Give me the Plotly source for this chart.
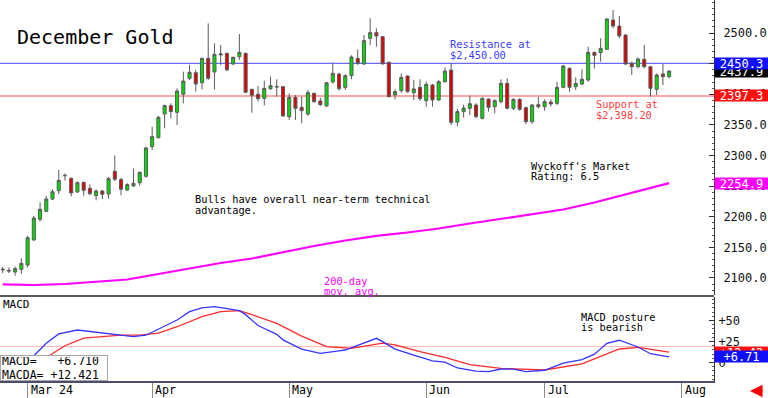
import plotly.graph_objects as go
import pandas as pd

# ---------------- data ----------------
holidays = ["2024-03-29", "2024-05-27", "2024-06-19", "2024-07-04"]
calendar = [d for d in pd.bdate_range("2024-02-26", "2024-08-09")
            if d.strftime("%Y-%m-%d") not in holidays]

opens = [2114.5, 2112.5, 2109.8, 2114.1, 2121.2, 2162.0, 2195.8, 2208.8, 2228.9, 2242.6,
         2267.5, 2262.7, 2240.4, 2256.2, 2246.4, 2234.4, 2242.0, 2237.1, 2274.2, 2260.6,
         2243.6, 2250.2, 2255.6, 2266.0, 2314.4, 2329.1, 2367.8, 2381.4, 2370.5, 2399.9,
         2426.0, 2435.2, 2418.9, 2458.6, 2436.3, 2466.0, 2466.8, 2449.4, 2461.4, 2466.8,
         2408.0, 2399.9, 2393.3, 2409.1, 2412.8, 2412.4, 2363.4, 2394.9, 2378.6, 2367.8,
         2401.5, 2389.0, 2380.8, 2420.0, 2433.0, 2411.3, 2430.4, 2458.6, 2449.4, 2491.3,
         2500.5, 2494.0, 2452.1, 2398.8, 2405.8, 2429.8, 2402.6, 2411.3, 2389.5, 2415.1,
         2390.6, 2420.5, 2439.6, 2354.5, 2371.6, 2377.0, 2382.4, 2360.7, 2392.2, 2379.7,
         2387.9, 2417.8, 2377.0, 2391.7, 2378.1, 2355.2, 2383.0, 2379.7, 2387.3, 2385.2,
         2411.3, 2442.3, 2412.4, 2416.7, 2423.3, 2468.4, 2467.9, 2473.3, 2521.2, 2511.4,
         2496.7, 2450.5, 2445.0, 2457.0, 2445.0, 2408.0, 2433.0, 2428.7]
highs = [2118.0, 2117.0, 2118.5, 2132.0, 2168.6, 2201.2, 2223.5, 2233.9, 2244.7, 2276.3,
         2270.9, 2263.8, 2257.8, 2257.3, 2252.9, 2244.7, 2243.6, 2264.9, 2300.3, 2263.8,
         2254.6, 2278.5, 2273.6, 2314.4, 2347.0, 2364.5, 2383.0, 2385.2, 2409.7, 2436.9,
         2447.8, 2439.6, 2459.7, 2515.8, 2483.1, 2480.4, 2467.9, 2461.4, 2498.4, 2467.9,
         2409.1, 2413.5, 2422.2, 2428.7, 2424.4, 2413.5, 2401.5, 2398.8, 2396.0, 2407.0,
         2402.6, 2394.4, 2420.0, 2451.6, 2435.2, 2432.5, 2463.6, 2473.3, 2496.7, 2524.0,
         2507.6, 2495.1, 2453.2, 2408.0, 2434.1, 2430.9, 2423.3, 2424.4, 2420.5, 2416.7,
         2423.3, 2443.9, 2450.5, 2376.0, 2383.0, 2398.0, 2385.2, 2395.0, 2393.3, 2391.7,
         2424.4, 2426.0, 2393.3, 2393.3, 2379.7, 2384.1, 2396.0, 2391.7, 2391.7, 2420.5,
         2447.8, 2444.0, 2427.6, 2440.7, 2477.7, 2469.5, 2491.3, 2524.0, 2537.6, 2527.8,
         2497.8, 2453.2, 2460.3, 2480.4, 2446.1, 2434.1, 2449.4, 2438.5]
lows = [2108.0, 2108.0, 2103.8, 2106.5, 2117.4, 2160.9, 2192.0, 2207.7, 2227.3, 2237.1,
        2258.9, 2233.3, 2239.3, 2234.4, 2235.0, 2226.8, 2228.9, 2229.5, 2258.4, 2235.0,
        2242.0, 2249.1, 2250.7, 2263.8, 2309.0, 2328.0, 2344.4, 2360.7, 2349.8, 2385.2,
        2423.3, 2404.2, 2408.0, 2423.3, 2408.0, 2447.8, 2438.5, 2447.8, 2455.9, 2402.6,
        2369.9, 2387.9, 2381.9, 2407.0, 2396.0, 2363.4, 2358.0, 2358.0, 2352.5, 2364.5,
        2386.2, 2380.8, 2379.7, 2417.8, 2405.8, 2407.0, 2424.4, 2447.8, 2447.8, 2480.4,
        2477.7, 2449.4, 2394.9, 2391.7, 2402.6, 2402.6, 2390.6, 2389.5, 2379.7, 2379.7,
        2389.0, 2418.9, 2349.8, 2347.5, 2362.0, 2366.0, 2360.7, 2359.0, 2371.6, 2368.8,
        2385.2, 2375.4, 2374.3, 2373.2, 2351.4, 2351.4, 2377.0, 2373.2, 2379.7, 2382.4,
        2409.6, 2404.2, 2406.9, 2415.1, 2420.5, 2442.3, 2453.2, 2472.2, 2507.6, 2491.3,
        2447.8, 2431.4, 2442.3, 2442.3, 2396.1, 2398.8, 2415.1, 2426.0]
closes = [2113.5, 2111.5, 2115.2, 2123.9, 2165.8, 2197.9, 2212.1, 2228.9, 2240.9, 2259.4,
          2267.0, 2238.8, 2255.6, 2243.1, 2237.7, 2242.0, 2236.6, 2262.2, 2261.1, 2244.8,
          2252.4, 2254.6, 2272.5, 2312.2, 2330.7, 2362.3, 2381.4, 2371.6, 2405.3, 2421.6,
          2435.8, 2416.7, 2458.6, 2426.0, 2465.2, 2464.5, 2439.6, 2460.3, 2468.4, 2403.1,
          2398.2, 2392.8, 2409.6, 2414.0, 2412.0, 2364.5, 2394.9, 2377.0, 2373.2, 2402.6,
          2387.9, 2383.0, 2418.9, 2434.1, 2409.1, 2430.4, 2460.8, 2450.5, 2487.5, 2500.5,
          2495.1, 2449.4, 2396.0, 2404.2, 2427.6, 2404.2, 2408.6, 2392.8, 2416.2, 2390.6,
          2420.5, 2437.9, 2354.0, 2371.6, 2377.5, 2384.5, 2363.4, 2393.3, 2378.6, 2389.5,
          2417.8, 2377.0, 2391.7, 2375.4, 2355.2, 2382.4, 2379.7, 2387.9, 2384.1, 2411.3,
          2446.1, 2411.3, 2417.8, 2424.4, 2468.4, 2463.5, 2475.0, 2522.9, 2511.4, 2495.1,
          2449.4, 2445.0, 2457.5, 2445.0, 2409.6, 2431.4, 2428.7, 2437.9]

# 200-day moving average, read at sampled trading-day positions
ma_idx = [0, 5, 10, 15, 20, 25, 30, 35, 40, 45, 50, 55, 60, 65, 70, 75, 80, 85, 90, 95, 100, 105, 107]
ma_vals = [2089.7, 2088.5, 2090.2, 2093.4, 2097.5, 2106.5, 2115.5, 2124.5, 2131.8, 2142.4,
           2152.2, 2161.2, 2168.6, 2174.3, 2180.8, 2188.9, 2196.3, 2203.7, 2211.8, 2223.3,
           2236.3, 2249.4, 2254.9]

# MACD (blue) and MACDA signal (red), read at sampled positions
macd_idx = [0, 3, 5, 7, 9, 12, 16, 18, 21, 23, 25, 28, 30, 32, 34, 36, 38, 39, 41, 44, 45,
            48, 51, 54, 55, 57, 60, 61, 63, 66, 69, 71, 73, 76, 78, 80, 82, 84, 87, 90, 93,
            95, 97, 99, 101, 102, 104, 107]
macd_vals = [-12.0, 0.0, 8.0, 23.0, 34.0, 38.7, 35.5, 33.5, 30.8, 32.5, 40.0, 50.6, 60.5,
             65.0, 66.5, 64.5, 61.7, 57.0, 44.0, 33.5, 27.0, 16.0, 10.9, 13.9, 14.9, 20.5,
             28.8, 24.8, 16.0, 8.7, 2.0, 0.5, -6.5, -10.3, -10.9, -7.7, -7.8, -10.9, -9.2,
             -0.8, 3.5, 10.0, 22.9, 26.5, 21.0, 18.5, 10.5, 6.71]
sig_idx = [0, 4, 7, 10, 13, 16, 19, 22, 25, 28, 32, 35, 38, 40, 44, 48, 52, 56, 61, 63, 67,
           71, 75, 80, 84, 87, 93, 96, 99, 102, 107]
sig_vals = [-6.0, -1.0, 6.0, 20.0, 29.0, 31.0, 32.7, 32.7, 35.0, 42.6, 54.5, 60.5, 61.7,
            57.0, 46.5, 31.5, 19.0, 16.9, 23.0, 21.0, 12.9, 6.0, -2.5, -7.0, -8.1, -8.9,
            -1.5, 7.5, 16.1, 18.1, 12.42]
macd_readout = 6.710
macda_readout = 12.421

resistance = 2450.3
support = 2397.3
macd_ref = 19.0

price_ticks = [2100, 2150, 2200, 2250, 2300, 2350, 2400, 2450, 2500]
macd_ticks = [0, 25, 50]
macd_tick_text = ["0", "+25", "+50"]
month_labels = ["Mar 24", "Apr", "May", "Jun", "Jul", "Aug"]
months = [3, 4, 5, 6, 7, 8]

# ---------------- derived ----------------
n = len(opens)
x_idx = list(range(n))
date_text = [d.strftime("%Y-%m-%d") for d in calendar[:n]]
month_idx = [next(i for i, d in enumerate(calendar) if d.month == m) for m in months]

MONO = "DejaVu Sans Mono"
PW, PH = 714.0, 381.0


def px(x):
    return x / PW


def py(y):
    return (PH - y) / PH


fig = go.Figure()

fig.add_trace(go.Candlestick(
    x=x_idx, open=opens, high=highs, low=lows, close=closes, text=date_text,
    increasing=dict(fillcolor="#00dd00", line=dict(color="#5a5a5a", width=1)),
    decreasing=dict(fillcolor="#dd0000", line=dict(color="#5a5a5a", width=1)),
    xaxis="x", yaxis="y", showlegend=False))

fig.add_trace(go.Scatter(x=ma_idx, y=ma_vals, mode="lines",
                         line=dict(color="#ff00ff", width=2.2),
                         xaxis="x", yaxis="y", showlegend=False))

fig.add_trace(go.Scatter(x=sig_idx, y=sig_vals, mode="lines",
                         line=dict(color="#ff2a2a", width=1.3),
                         xaxis="x2", yaxis="y2", showlegend=False))
fig.add_trace(go.Scatter(x=macd_idx, y=macd_vals, mode="lines",
                         line=dict(color="#3535ff", width=1.3),
                         xaxis="x2", yaxis="y2", showlegend=False))

shapes = [
    dict(type="line", xref="paper", x0=0, x1=1, yref="y", y0=resistance, y1=resistance,
         line=dict(color="#6a6aff", width=1.2), layer="below"),
    dict(type="line", xref="paper", x0=0, x1=1, yref="y", y0=support, y1=support,
         line=dict(color="#ff8a8a", width=1.5), layer="below"),
    dict(type="line", xref="paper", x0=0, x1=1, yref="y2", y0=macd_ref, y1=macd_ref,
         line=dict(color="#ffb4b4", width=1), layer="below"),
    dict(type="line", xref="paper", x0=0, x1=1, yref="paper", y0=py(296), y1=py(296),
         line=dict(color="#202020", width=1.5)),
]

ann = []


def txt(x, y, s, color="black", size=10.3):
    ann.append(dict(x=px(x), y=py(y), xref="paper", yref="paper", xanchor="left",
                    yanchor="middle", text=s, showarrow=False,
                    font=dict(family=MONO, size=size, color=color)))


txt(15, 37, "December Gold", size=20)
txt(448, 44.5, "Resistance at", color="#3c3cff")
txt(448, 55, "$2,450.00", color="#3c3cff")
txt(594, 104, "Support at", color="#ff4040")
txt(594, 115, "$2,398.20", color="#ff4040")
txt(193, 199, "Bulls have overall near-term technical")
txt(193, 210, "advantage.")
txt(529, 166, "Wyckoff's Market")
txt(529, 176, "Rating: 6.5")
txt(322, 281, "200-day", color="#ff00ff")
txt(322, 291, "mov. avg.", color="#ff00ff")
txt(579, 316.5, "MACD posture")
txt(579, 326.5, "is bearish")
txt(1, 304.5, "MACD", size=11)

# value boxes on the right axis
last_close = closes[-1]
for val, col in [(last_close, "#000000"), (resistance, "#1010ff"),
                 (support, "#ff1010"), (ma_vals[-1], "#ff00ff")]:
    ann.append(dict(x=1, xref="paper", xanchor="left", y=val, yref="y", yanchor="middle",
                    text=f"{val:.1f}", showarrow=False, bgcolor=col, width=53, height=11,
                    borderpad=0, font=dict(family=MONO, size=12, color="white")))
for val, col in [(sig_vals[-1], "#ff1010"), (macd_vals[-1], "#1010ff")]:
    ann.append(dict(x=1, xref="paper", xanchor="left", y=val, yref="y2", yanchor="middle",
                    text=f"+{val:.2f}", showarrow=False, bgcolor=col, width=53, height=11,
                    borderpad=0, font=dict(family=MONO, size=12, color="white")))

# MACD readout box
nb = "\u00a0"
ann.append(dict(x=0, y=0, xref="paper", yref="paper", xanchor="left", yanchor="bottom",
                text=f"MACD={nb*3}+{macd_readout:.3f}<br>MACDA={nb}+{macda_readout:.3f}",
                showarrow=False, align="left", bgcolor="white", bordercolor="#a8a8a8",
                borderwidth=1, borderpad=1, width=104, height=22,
                font=dict(family=MONO, size=11.5, color="black")))

# month labels
for mi, lab in zip(month_idx, month_labels):
    ann.append(dict(x=mi, xref="x2", y=py(389.5), yref="paper", xanchor="left",
                    yanchor="middle", xshift=1, text=lab, showarrow=False,
                    font=dict(family=MONO, size=11.6, color="black")))

# small red arrow bottom right
ann.append(dict(x=px(750), y=py(391), xref="paper", yref="paper", ax=14, ay=0,
                showarrow=True, arrowhead=2, arrowsize=1, arrowwidth=2.5,
                arrowcolor="#ff0000", text=""))

fig.update_layout(
    width=768, height=398,
    margin=dict(l=0, r=54, t=0, b=17),
    paper_bgcolor="white", plot_bgcolor="white",
    showlegend=False, hovermode=False,
    shapes=shapes, annotations=ann,
    xaxis=dict(domain=[0, 1], range=[-0.43, 114.2], anchor="y", showticklabels=False,
               showgrid=False, zeroline=False, showline=False, ticks="",
               rangeslider=dict(visible=False)),
    xaxis2=dict(matches="x", anchor="y2", range=[-0.43, 114.2], tickvals=month_idx,
                showticklabels=False, ticks="outside", ticklen=17, tickcolor="#8a8a8a",
                tickwidth=1, showgrid=False, zeroline=False, showline=True,
                linecolor="#4c4c6c", linewidth=1.5),
    yaxis=dict(domain=[py(295), 1], range=[2072.2, 2553.9], anchor="x", side="right",
               tickvals=price_ticks, ticktext=[f"{v:.1f}" for v in price_ticks],
               ticks="inside", ticklen=5, tickcolor="#333333",
               minor=dict(ticks="inside", ticklen=2, dtick=10, tickcolor="#555555"),
               showline=True, linecolor="#333333", linewidth=1, showgrid=False,
               zeroline=False, ticklabelstandoff=6,
               tickfont=dict(family=MONO, size=12, color="#111111")),
    yaxis2=dict(domain=[0, py(297)], range=[-22, 78], anchor="x2", side="right",
                tickvals=macd_ticks, ticktext=macd_tick_text,
                ticks="inside", ticklen=5, tickcolor="#333333",
                minor=dict(ticks="inside", ticklen=2, dtick=5, tickcolor="#555555"),
                showline=True, linecolor="#333333", linewidth=1, showgrid=False,
                zeroline=False, ticklabelstandoff=1,
                tickfont=dict(family=MONO, size=12, color="#111111")),
)

fig.write_html("out.html", config={"displayModeBar": False},
               post_script="document.body.style.margin='0';"
                           "document.body.style.overflow='hidden';")
